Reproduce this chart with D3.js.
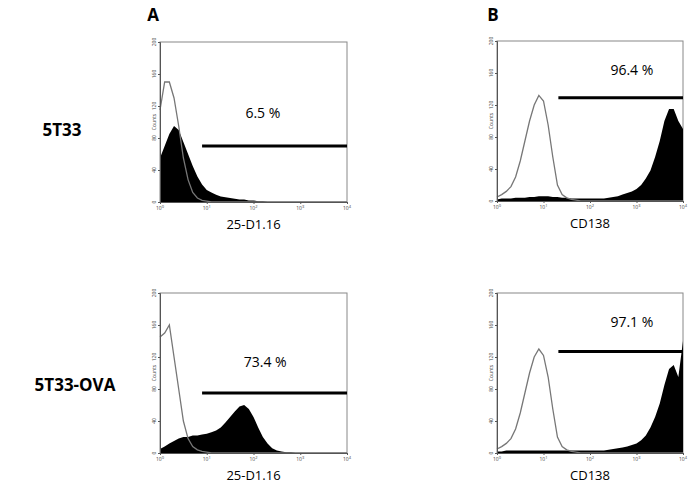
<!DOCTYPE html>
<html><head><meta charset="utf-8">
<script src="https://cdn.jsdelivr.net/npm/d3@7"></script>
<style>body{margin:0;background:#fff}</style>
</head><body>
<svg id="fig" width="689" height="486"></svg>
<script>
// log10 positions 0..4 step 0.1
const logX = d3.range(41).map(i => i / 10)

const a1Fill = [55,70,85,95,90,75,60,45,32,22,15,12,9,7,6,5,4,3,3,2,2,1,1,0,0,0,0,0,0,0,0,0,0,0,0,0,0,0,0,0,0]
const a1Line = [115,150,150,130,95,55,28,12,5,2,1,0,0,0,0,0,0,0,0,0,0,0,0,0,0,0,0,0,0,0,0,0,0,0,0,0,0,0,0,0,0]
const a2Fill = [5,8,12,15,18,20,20,22,22,23,24,26,28,32,38,45,52,58,60,55,45,32,20,12,6,3,2,1,1,0,0,0,0,0,0,0,0,0,0,0,0]
const a2Line = [145,150,160,120,80,40,18,8,4,2,1,0,0,0,0,0,0,0,0,0,0,0,0,0,0,0,0,0,0,0,0,0,0,0,0,0,0,0,0,0,0]
const b1Fill = [2,3,3,3,4,4,4,5,5,6,6,6,5,5,4,4,3,3,3,3,3,3,3,3,4,5,6,8,10,12,15,20,28,38,55,75,100,115,115,100,90]
const b1Line = [5,8,12,18,30,50,75,100,120,132,125,95,55,20,8,4,2,1,0,0,0,0,0,0,0,0,0,0,0,0,0,0,0,0,0,0,0,0,0,0,0]
const b2Fill = [2,2,3,3,3,3,3,3,3,3,3,3,3,3,3,3,3,3,3,3,3,3,3,3,4,5,6,7,8,10,12,16,22,32,45,62,85,105,110,95,140]
const b2Line = [5,8,12,18,30,50,75,100,120,130,122,95,55,20,8,4,2,1,0,0,0,0,0,0,0,0,0,0,0,0,0,0,0,0,0,0,0,0,0,0,0]

const gateStart = [0.9, 0.9, 1.32, 1.32]
const gateLevel = [70, 75, 129, 127]
const gateText = ["6.5 %", "73.4 %", "96.4 %", "97.1 %"]
const gateTextPos = [[2.2, 105], [2.25, 107], [2.9, 158], [2.9, 158]]
const yTicks = [0, 40, 80, 120, 160, 200]
const xTicks = [0, 1, 2, 3, 4]

const panels = [
  {x0:160, x1:347, y0:42, y1:202, fill:a1Fill, line:a1Line, label:"25-D1.16"},
  {x0:160, x1:347, y0:293, y1:453, fill:a2Fill, line:a2Line, label:"25-D1.16"},
  {x0:497, x1:683, y0:41, y1:201, fill:b1Fill, line:b1Line, label:"CD138"},
  {x0:497, x1:683, y0:293, y1:453, fill:b2Fill, line:b2Line, label:"CD138"}
]

const svg = d3.select("#fig")
const font = "'Open Sans', sans-serif"

panels.forEach((p, i) => {
  const x = d3.scaleLinear().domain([0, 4]).range([p.x0, p.x1])
  const y = d3.scaleLinear().domain([0, 200]).range([p.y1, p.y0])
  const g = svg.append("g")

  g.append("rect").attr("x", p.x0).attr("y", p.y0)
    .attr("width", p.x1 - p.x0).attr("height", p.y1 - p.y0)
    .attr("fill", "none").attr("stroke", "#888").attr("stroke-width", 1)

  g.append("path").datum(p.fill)
    .attr("d", d3.area().x((d, j) => x(logX[j])).y0(y(0)).y1(d => y(d)))
    .attr("fill", "#000")
  g.append("path").datum(p.line)
    .attr("d", d3.line().x((d, j) => x(logX[j])).y(d => y(d)))
    .attr("fill", "none").attr("stroke", "#777").attr("stroke-width", 1.3)

  // axes
  const ya = g.append("g").attr("transform", `translate(${p.x0},0)`)
    .call(d3.axisLeft(y).tickValues(yTicks).tickSize(2).tickFormat(""))
  ya.selectAll("path,line").attr("stroke", "#555")
  yTicks.forEach(t => {
    g.append("text").attr("transform", `translate(${p.x0 - 4},${y(t)}) rotate(-90)`)
      .attr("text-anchor", "middle").attr("font-size", 5).attr("font-family", font)
      .attr("fill", "#444").text(t)
  })
  g.append("text").attr("transform", `translate(${p.x0 - 4},${y(100)}) rotate(-90)`)
    .attr("text-anchor", "middle").attr("font-size", 5).attr("font-family", font)
    .attr("fill", "#444").text("Counts")
  const xa = g.append("g").attr("transform", `translate(0,${p.y1})`)
    .call(d3.axisBottom(x).tickValues(xTicks).tickSize(2).tickFormat(""))
  xa.selectAll("path,line").attr("stroke", "#555")
  xTicks.forEach(t => {
    const tx = g.append("text").attr("x", x(t)).attr("y", p.y1 + 8)
      .attr("text-anchor", "middle").attr("font-size", 5).attr("font-family", font).attr("fill", "#444")
    tx.append("tspan").text("10")
    tx.append("tspan").attr("dy", -2).attr("font-size", 4).text(t)
  })
  g.append("text").attr("x", (p.x0 + p.x1) / 2).attr("y", p.y1 + 27)
    .attr("text-anchor", "middle").attr("font-size", 13).attr("font-family", font).text(p.label)

  // gate
  g.append("line").attr("x1", x(gateStart[i])).attr("x2", x(4))
    .attr("y1", y(gateLevel[i])).attr("y2", y(gateLevel[i]))
    .attr("stroke", "#000").attr("stroke-width", 3)
  g.append("text").attr("x", x(gateTextPos[i][0])).attr("y", y(gateTextPos[i][1]))
    .attr("text-anchor", "middle").attr("font-size", 14).attr("font-family", font).text(gateText[i])
})

svg.append("text").attr("x", 153).attr("y", 21).attr("text-anchor", "middle")
  .attr("font-size", 17).attr("font-weight", "bold").attr("font-family", font).text("A")
svg.append("text").attr("x", 493).attr("y", 21).attr("text-anchor", "middle")
  .attr("font-size", 17).attr("font-weight", "bold").attr("font-family", font).text("B")
svg.append("text").attr("x", 62).attr("y", 136).attr("text-anchor", "middle")
  .attr("font-size", 17).attr("font-weight", "bold").attr("font-family", font).text("5T33")
svg.append("text").attr("x", 75).attr("y", 391).attr("text-anchor", "middle")
  .attr("font-size", 17).attr("font-weight", "bold").attr("font-family", font).text("5T33-OVA")
</script>
</body></html>
